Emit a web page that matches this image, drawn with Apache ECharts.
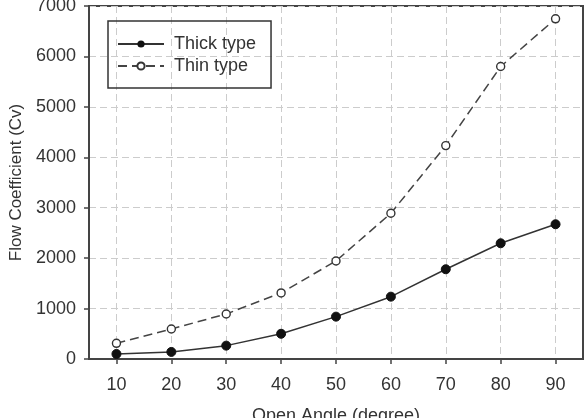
<!DOCTYPE html>
<html>
<head>
<meta charset="utf-8">
<script src="https://cdn.jsdelivr.net/npm/echarts@6/dist/echarts.min.js"></script>
<style>
  html, body { margin: 0; padding: 0; background: #fff; }
  #flow-chart { width: 588px; height: 418px; }
</style>
</head>
<body>
<div id="flow-chart"></div>
<script>
// open angle (degree)
const angles = [10, 20, 30, 40, 50, 60, 70, 80, 90];
// flow coefficient (Cv)
const thickValues = [100, 140, 265, 500, 840, 1236, 1780, 2295, 2672];
const thinValues = [311, 595, 893, 1310, 1944, 2890, 4232, 5800, 6746];
const xTicks = [10, 20, 30, 40, 50, 60, 70, 80, 90];

const pairs = (xs, ys) => xs.map((x, i) => [x, ys[i]]);

const ink = '#333';
const font = 'Liberation Sans, Arial, sans-serif';

var myChart = echarts.init(document.getElementById('flow-chart'));
myChart.setOption({
  animation: false,
  grid: {
    left: 89, right: 5, top: 6, bottom: 59,
    outerBoundsMode: 'none',
    show: true, borderColor: '#444', borderWidth: 2, backgroundColor: '#fff'
  },
  legend: {
    left: 108, top: 21,
    orient: 'vertical',
    borderColor: ink, borderWidth: 1.5, borderRadius: 0,
    padding: [14, 15, 13, 9],
    itemGap: 4,
    itemWidth: 46, itemHeight: 9,
    textStyle: { fontFamily: font, fontSize: 18, color: ink, padding: [0, 0, 0, 5] },
    data: ['Thick type', 'Thin type']
  },
  xAxis: {
    type: 'value',
    min: 5, max: 95,
    interval: 10,
    name: 'Open Angle (degree)',
    nameLocation: 'middle',
    nameGap: 48,
    nameTextStyle: { fontFamily: font, fontSize: 18, color: ink },
    axisLine: { lineStyle: { color: '#444', width: 2 } },
    axisTick: { show: true, length: 5, lineStyle: { color: '#444', width: 1.5 },
      customValues: xTicks },
    axisLabel: { fontFamily: font, fontSize: 18, color: ink, margin: 17,
      customValues: xTicks },
    splitLine: { show: true, lineStyle: { color: '#ccc', type: [7, 4] } }
  },
  yAxis: {
    type: 'value',
    min: 0, max: 7000, interval: 1000,
    name: 'Flow Coefficient (Cv)',
    nameLocation: 'middle',
    nameGap: 64,
    nameTextStyle: { fontFamily: font, fontSize: 17, color: ink },
    axisLine: { show: true, lineStyle: { color: '#444', width: 2 } },
    axisTick: { show: true, length: 5, lineStyle: { color: '#444', width: 1.5 } },
    axisLabel: { fontFamily: font, fontSize: 18, color: ink, margin: 13,
      formatter: (v) => String(v) },
    splitLine: { show: true, lineStyle: { color: '#ccc', type: [7, 4] } }
  },
  series: [
    {
      name: 'Thick type',
      type: 'line',
      data: pairs(angles, thickValues),
      symbol: 'circle', symbolSize: 9,
      lineStyle: { color: ink, width: 1.5 },
      itemStyle: { color: '#111', borderColor: '#111' }
    },
    {
      name: 'Thin type',
      type: 'line',
      data: pairs(angles, thinValues),
      symbol: 'circle', symbolSize: 8,
      lineStyle: { color: '#444', width: 1.5, type: [9, 5] },
      itemStyle: { color: '#fff', borderColor: '#333', borderWidth: 1.4 }
    }
  ]
});
</script>
</body>
</html>
